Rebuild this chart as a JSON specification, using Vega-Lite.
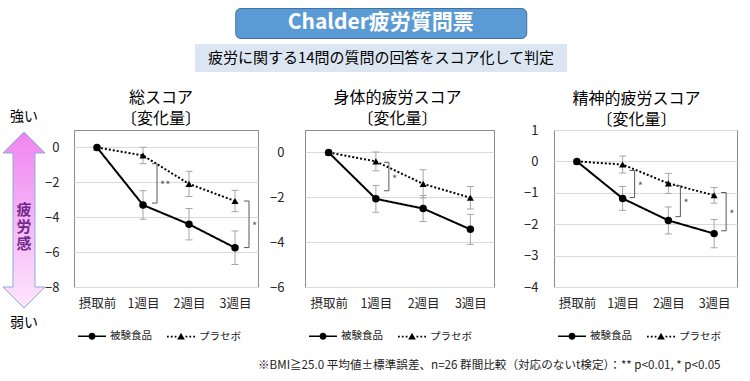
{
  "$schema": "https://vega.github.io/schema/vega-lite/v6.json",
  "padding": {"left": 0, "top": 7, "right": 0, "bottom": 0},
  "config": {
    "font": "Noto Sans CJK JP",
    "view": {"stroke": "#8c8c8c", "strokeWidth": 1},
    "axis": {"domain": false, "ticks": false, "labelColor": "#262626", "gridColor": "#d9d9d9", "labelOverlap": false},
    "axisY": {"labelOverlap": false, "labelFontSize": 13}
  },
  "datasets": {
    "scores": [
      {"panel": "総", "時点": "摂取前", "群": "被験食品", "mean": 0, "se": 0},
      {"panel": "総", "時点": "1週目", "群": "被験食品", "mean": -3.3, "se": 0.82},
      {"panel": "総", "時点": "2週目", "群": "被験食品", "mean": -4.4, "se": 0.9},
      {"panel": "総", "時点": "3週目", "群": "被験食品", "mean": -5.75, "se": 0.96},
      {"panel": "総", "時点": "摂取前", "群": "プラセボ", "mean": 0, "se": 0},
      {"panel": "総", "時点": "1週目", "群": "プラセボ", "mean": -0.46, "se": 0.47},
      {"panel": "総", "時点": "2週目", "群": "プラセボ", "mean": -2.09, "se": 0.72},
      {"panel": "総", "時点": "3週目", "群": "プラセボ", "mean": -3.07, "se": 0.61},
      {"panel": "身体", "時点": "摂取前", "群": "被験食品", "mean": 0, "se": 0},
      {"panel": "身体", "時点": "1週目", "群": "被験食品", "mean": -2.07, "se": 0.6},
      {"panel": "身体", "時点": "2週目", "群": "被験食品", "mean": -2.5, "se": 0.58},
      {"panel": "身体", "時点": "3週目", "群": "被験食品", "mean": -3.43, "se": 0.67},
      {"panel": "身体", "時点": "摂取前", "群": "プラセボ", "mean": 0, "se": 0},
      {"panel": "身体", "時点": "1週目", "群": "プラセボ", "mean": -0.4, "se": 0.42},
      {"panel": "身体", "時点": "2週目", "群": "プラセボ", "mean": -1.4, "se": 0.63},
      {"panel": "身体", "時点": "3週目", "群": "プラセボ", "mean": -2.02, "se": 0.5},
      {"panel": "精神", "時点": "摂取前", "群": "被験食品", "mean": 0, "se": 0},
      {"panel": "精神", "時点": "1週目", "群": "被験食品", "mean": -1.18, "se": 0.38},
      {"panel": "精神", "時点": "2週目", "群": "被験食品", "mean": -1.88, "se": 0.43},
      {"panel": "精神", "時点": "3週目", "群": "被験食品", "mean": -2.3, "se": 0.45},
      {"panel": "精神", "時点": "摂取前", "群": "プラセボ", "mean": 0, "se": 0},
      {"panel": "精神", "時点": "1週目", "群": "プラセボ", "mean": -0.1, "se": 0.27},
      {"panel": "精神", "時点": "2週目", "群": "プラセボ", "mean": -0.7, "se": 0.32},
      {"panel": "精神", "時点": "3週目", "群": "プラセボ", "mean": -1.08, "se": 0.25}
    ],
    "sig": [
      {"panel": "総", "時点": "1週目", "上": -0.93, "下": -3.19, "記号": "**"},
      {"panel": "総", "時点": "3週目", "上": -3.07, "下": -5.74, "記号": "*"},
      {"panel": "身体", "時点": "1週目", "上": -0.44, "下": -1.71, "記号": "*"},
      {"panel": "精神", "時点": "1週目", "上": -0.29, "下": -1.15, "記号": "*"},
      {"panel": "精神", "時点": "2週目", "上": -0.77, "下": -1.76, "記号": "*"},
      {"panel": "精神", "時点": "3週目", "上": -0.99, "下": -2.21, "記号": "*"}
    ]
  },
  "title": {"text": "※BMI≧25.0 平均値±標準誤差、n=26 群間比較（対応のないt検定）：** p<0.01, * p<0.05", "orient": "bottom", "anchor": "end", "fontSize": 11.6, "fontWeight": "normal", "color": "#222", "dx": -17, "offset": 16},
  "spacing": 17,
  "resolve": {"scale": {"shape": "independent"}, "legend": {"shape": "independent"}},
  "vconcat": [
    {
      "spacing": 0,
      "hconcat": [
        {"width": 195, "height": 10, "view": {"stroke": null}, "data": {"values": [{"t": ""}]}, "mark": "text", "encoding": {"text": {"field": "t"}}},
        {
          "spacing": 5,
          "center": true,
          "vconcat": [
            {"width": 291, "height": 30, "view": {"fill": "#5b9bd5", "stroke": "#41719c", "strokeWidth": 1, "cornerRadius": 5}, "data": {"values": [{"t": "Chalder疲労質問票"}]}, "mark": {"type": "text", "fontSize": 21, "fontWeight": "bold", "color": "white"}, "encoding": {"text": {"field": "t"}}},
            {"width": 372, "height": 28, "view": {"fill": "#dce6f2", "stroke": null}, "data": {"values": [{"t": "疲労に関する14問の質問の回答をスコア化して判定"}]}, "mark": {"type": "text", "fontSize": 15, "color": "black"}, "encoding": {"text": {"field": "t"}}}
          ]
        }
      ]
    },
    {
      "spacing": -4,
      "resolve": {"scale": {"shape": "independent"}, "legend": {"shape": "independent"}},
      "hconcat": [
        {
          "width": 48, "height": 200, "view": {"stroke": null},
          "data": {"values": [{"label": "強い", "level": 1}, {"label": "疲\n労\n感", "level": 0}, {"label": "弱い", "level": -1}]},
          "encoding": {"y": {"field": "level", "type": "quantitative", "scale": {"domain": [-1.073, 0.878], "nice": false, "zero": false}, "axis": null}},
          "layer": [
            {"transform": [{"filter": "datum.level === 0"}], "mark": {"type": "point", "shape": "M0,-4.19L1,-3.19L0.524,-3.19L0.524,3.19L1,3.19L0,4.19L-1,3.19L-0.524,3.19L-0.524,-3.19L-1,-3.19Z", "size": 1764, "filled": true, "opacity": 1, "fill": {"gradient": "linear", "x1": 0, "y1": 0, "x2": 0, "y2": 1, "stops": [{"offset": 0, "color": "#f084f0"}, {"offset": 1, "color": "#fde6fd"}]}, "stroke": "#8eaadb", "strokeWidth": 1}},
            {"transform": [{"filter": "datum.level !== 0"}], "mark": {"type": "text", "fontSize": 14, "color": "black"}, "encoding": {"text": {"field": "label"}}},
            {"transform": [{"filter": "datum.level === 0"}], "mark": {"type": "text", "fontSize": 15, "fontWeight": "bold", "color": "#702a8c", "lineBreak": "\n", "lineHeight": 17, "dy": -10}, "encoding": {"text": {"field": "label"}}}
          ]
        },
        {
          "spacing": 10,
          "resolve": {"scale": {"shape": "independent"}, "legend": {"shape": "independent"}},
          "hconcat": [
            {
              "width": 184, "height": 157,
              "title": {"text": ["総スコア", "〔変化量〕"], "fontSize": 16, "fontWeight": "normal", "lineHeight": 21, "offset": 3, "frame": "group", "dx": -5, "color": "black"},
              "encoding": {
                "x": {"field": "時点", "type": "ordinal", "title": null, "scale": {"type": "point", "padding": 0.5, "domain": ["摂取前", "1週目", "2週目", "3週目"]}, "axis": {"labelAngle": 0, "labelPadding": 10, "labelFontSize": 12.5, "grid": false}},
                "y": {"field": "mean", "type": "quantitative", "title": null, "scale": {"domain": [-8, 1], "nice": false, "zero": false}, "axis": {"values": [0, -2, -4, -6, -8], "labelPadding": 15, "labelFontSize": 13, "labelOverlap": false, "grid": true}}
              },
              "layer": [
                {"data": {"name": "scores"}, "transform": [{"filter": "datum.panel === '総' && datum.se > 0"}], "mark": {"type": "errorbar", "color": "#a6a6a6", "thickness": 1, "ticks": {"size": 7, "opacity": 1}}, "encoding": {"yError": {"field": "se"}}},
                {"data": {"name": "scores"}, "transform": [{"filter": "datum.panel === '総'"}], "mark": {"type": "line", "color": "black", "strokeWidth": 2}, "encoding": {"detail": {"field": "群", "type": "nominal"}, "strokeDash": {"condition": {"test": "datum['群'] === 'プラセボ'", "value": [2, 2]}, "value": [1, 0]}}},
                {"data": {"name": "scores"}, "transform": [{"filter": "datum.panel === '総'"}], "mark": {"type": "point", "filled": true, "opacity": 1, "color": "black"}, "encoding": {"shape": {"condition": {"test": "datum['群'] === 'プラセボ'", "value": "triangle-up"}, "value": "circle"}, "size": {"condition": {"test": "datum['群'] === 'プラセボ'", "value": 50}, "value": 56}}},
                {"data": {"name": "scores"}, "transform": [{"filter": "datum.panel === '総' && datum['時点'] === '摂取前'"}], "mark": {"type": "point", "filled": true, "opacity": 0, "color": "black"}, "encoding": {"shape": {"field": "群", "type": "nominal", "scale": {"domain": ["被験食品", "プラセボ"], "range": ["M-0.57,-0.12H3.43V0.12H-0.57ZM1.93,0A0.5,0.5,0,1,1,0.93,0A0.5,0.5,0,1,1,1.93,0Z", "M-0.57,-0.12H-0.32V0.12H-0.57ZM-0.02,-0.12H0.23V0.12H-0.02ZM0.53,-0.12H0.78V0.12H0.53ZM2.08,-0.12H2.33V0.12H2.08ZM2.63,-0.12H2.88V0.12H2.63ZM3.18,-0.12H3.43V0.12H3.18ZM1.43,-0.55L1.98,0.4L0.88,0.4Z"]}, "legend": {"title": null, "orient": "bottom", "direction": "horizontal", "symbolSize": 196, "symbolFillColor": "black", "symbolOpacity": 1, "labelFontSize": 10.5, "labelColor": "#222", "labelOffset": 20, "columnPadding": 11, "offset": 18, "padding": 0}}}},
                {"data": {"name": "sig"}, "transform": [{"filter": "datum.panel === '総'"}], "mark": {"type": "rule", "color": "#595959", "strokeWidth": 1, "xOffset": 14}, "encoding": {"y": {"field": "上", "type": "quantitative", "title": null}, "y2": {"field": "下"}}},
                {"data": {"name": "sig"}, "transform": [{"filter": "datum.panel === '総'"}], "mark": {"type": "tick", "orient": "horizontal", "size": 5, "thickness": 1, "color": "#595959", "opacity": 1, "xOffset": 11.5}, "encoding": {"y": {"field": "上", "type": "quantitative", "title": null}}},
                {"data": {"name": "sig"}, "transform": [{"filter": "datum.panel === '総'"}], "mark": {"type": "tick", "orient": "horizontal", "size": 5, "thickness": 1, "color": "#595959", "opacity": 1, "xOffset": 11.5}, "encoding": {"y": {"field": "下", "type": "quantitative", "title": null}}},
                {"data": {"name": "sig"}, "transform": [{"filter": "datum.panel === '総'"}, {"fold": ["上", "下"], "as": ["端", "値"]}], "mark": {"type": "text", "align": "left", "xOffset": 17, "dy": 3, "fontSize": 11, "color": "#595959"}, "encoding": {"y": {"aggregate": "mean", "field": "値", "type": "quantitative", "title": null}, "text": {"field": "記号"}}}
              ]
            },
            {
              "spacing": 28,
              "resolve": {"scale": {"shape": "independent"}, "legend": {"shape": "independent"}},
              "hconcat": [
                {
                  "width": 189, "height": 157,
                  "title": {"text": ["身体的疲労スコア", "〔変化量〕"], "fontSize": 16, "fontWeight": "normal", "lineHeight": 21, "offset": 3, "frame": "group", "dx": -2, "color": "black"},
                  "encoding": {
                    "x": {"field": "時点", "type": "ordinal", "title": null, "scale": {"type": "point", "padding": 0.5, "domain": ["摂取前", "1週目", "2週目", "3週目"]}, "axis": {"labelAngle": 0, "labelPadding": 10, "labelFontSize": 12.5, "grid": false}},
                    "y": {"field": "mean", "type": "quantitative", "title": null, "scale": {"domain": [-6, 1], "nice": false, "zero": false}, "axis": {"values": [0, -2, -4, -6], "labelPadding": 21, "labelFontSize": 13, "labelOverlap": false, "grid": true}}
                  },
                  "layer": [
                    {"data": {"name": "scores"}, "transform": [{"filter": "datum.panel === '身体' && datum.se > 0"}], "mark": {"type": "errorbar", "color": "#a6a6a6", "thickness": 1, "ticks": {"size": 7, "opacity": 1}}, "encoding": {"yError": {"field": "se"}}},
                    {"data": {"name": "scores"}, "transform": [{"filter": "datum.panel === '身体'"}], "mark": {"type": "line", "color": "black", "strokeWidth": 2}, "encoding": {"detail": {"field": "群", "type": "nominal"}, "strokeDash": {"condition": {"test": "datum['群'] === 'プラセボ'", "value": [2, 2]}, "value": [1, 0]}}},
                    {"data": {"name": "scores"}, "transform": [{"filter": "datum.panel === '身体'"}], "mark": {"type": "point", "filled": true, "opacity": 1, "color": "black"}, "encoding": {"shape": {"condition": {"test": "datum['群'] === 'プラセボ'", "value": "triangle-up"}, "value": "circle"}, "size": {"condition": {"test": "datum['群'] === 'プラセボ'", "value": 50}, "value": 56}}},
                    {"data": {"name": "scores"}, "transform": [{"filter": "datum.panel === '身体' && datum['時点'] === '摂取前'"}], "mark": {"type": "point", "filled": true, "opacity": 0, "color": "black"}, "encoding": {"shape": {"field": "群", "type": "nominal", "scale": {"domain": ["被験食品", "プラセボ"], "range": ["M-0.57,-0.12H3.43V0.12H-0.57ZM1.93,0A0.5,0.5,0,1,1,0.93,0A0.5,0.5,0,1,1,1.93,0Z", "M-0.57,-0.12H-0.32V0.12H-0.57ZM-0.02,-0.12H0.23V0.12H-0.02ZM0.53,-0.12H0.78V0.12H0.53ZM2.08,-0.12H2.33V0.12H2.08ZM2.63,-0.12H2.88V0.12H2.63ZM3.18,-0.12H3.43V0.12H3.18ZM1.43,-0.55L1.98,0.4L0.88,0.4Z"]}, "legend": {"title": null, "orient": "bottom", "direction": "horizontal", "symbolSize": 196, "symbolFillColor": "black", "symbolOpacity": 1, "labelFontSize": 10.5, "labelColor": "#222", "labelOffset": 20, "columnPadding": 11, "offset": 18, "padding": 0}}}},
                    {"data": {"name": "sig"}, "transform": [{"filter": "datum.panel === '身体'"}], "mark": {"type": "rule", "color": "#595959", "strokeWidth": 1, "xOffset": 13}, "encoding": {"y": {"field": "上", "type": "quantitative", "title": null}, "y2": {"field": "下"}}},
                    {"data": {"name": "sig"}, "transform": [{"filter": "datum.panel === '身体'"}], "mark": {"type": "tick", "orient": "horizontal", "size": 5, "thickness": 1, "color": "#595959", "opacity": 1, "xOffset": 10.5}, "encoding": {"y": {"field": "上", "type": "quantitative", "title": null}}},
                    {"data": {"name": "sig"}, "transform": [{"filter": "datum.panel === '身体'"}], "mark": {"type": "tick", "orient": "horizontal", "size": 5, "thickness": 1, "color": "#595959", "opacity": 1, "xOffset": 10.5}, "encoding": {"y": {"field": "下", "type": "quantitative", "title": null}}},
                    {"data": {"name": "sig"}, "transform": [{"filter": "datum.panel === '身体'"}, {"fold": ["上", "下"], "as": ["端", "値"]}], "mark": {"type": "text", "align": "left", "xOffset": 16, "dy": 3, "fontSize": 11, "color": "#595959"}, "encoding": {"y": {"aggregate": "mean", "field": "値", "type": "quantitative", "title": null}, "text": {"field": "記号"}}}
                  ]
                },
                {
                  "width": 183, "height": 157,
                  "title": {"text": ["精神的疲労スコア", "〔変化量〕"], "fontSize": 16, "fontWeight": "normal", "lineHeight": 21, "offset": -3.5, "frame": "group", "dx": -9, "color": "black"},
                  "encoding": {
                    "x": {"field": "時点", "type": "ordinal", "title": null, "scale": {"type": "point", "padding": 0.5, "domain": ["摂取前", "1週目", "2週目", "3週目"]}, "axis": {"labelAngle": 0, "labelPadding": 10, "labelFontSize": 12.5, "grid": false}},
                    "y": {"field": "mean", "type": "quantitative", "title": null, "scale": {"domain": [-4, 1], "nice": false, "zero": false}, "axis": {"values": [1, 0, -1, -2, -3, -4], "labelPadding": 16, "labelFontSize": 13, "labelOverlap": false, "grid": true}}
                  },
                  "layer": [
                    {"data": {"name": "scores"}, "transform": [{"filter": "datum.panel === '精神' && datum.se > 0"}], "mark": {"type": "errorbar", "color": "#a6a6a6", "thickness": 1, "ticks": {"size": 7, "opacity": 1}}, "encoding": {"yError": {"field": "se"}}},
                    {"data": {"name": "scores"}, "transform": [{"filter": "datum.panel === '精神'"}], "mark": {"type": "line", "color": "black", "strokeWidth": 2}, "encoding": {"detail": {"field": "群", "type": "nominal"}, "strokeDash": {"condition": {"test": "datum['群'] === 'プラセボ'", "value": [2, 2]}, "value": [1, 0]}}},
                    {"data": {"name": "scores"}, "transform": [{"filter": "datum.panel === '精神'"}], "mark": {"type": "point", "filled": true, "opacity": 1, "color": "black"}, "encoding": {"shape": {"condition": {"test": "datum['群'] === 'プラセボ'", "value": "triangle-up"}, "value": "circle"}, "size": {"condition": {"test": "datum['群'] === 'プラセボ'", "value": 50}, "value": 56}}},
                    {"data": {"name": "scores"}, "transform": [{"filter": "datum.panel === '精神' && datum['時点'] === '摂取前'"}], "mark": {"type": "point", "filled": true, "opacity": 0, "color": "black"}, "encoding": {"shape": {"field": "群", "type": "nominal", "scale": {"domain": ["被験食品", "プラセボ"], "range": ["M-0.57,-0.12H3.43V0.12H-0.57ZM1.93,0A0.5,0.5,0,1,1,0.93,0A0.5,0.5,0,1,1,1.93,0Z", "M-0.57,-0.12H-0.32V0.12H-0.57ZM-0.02,-0.12H0.23V0.12H-0.02ZM0.53,-0.12H0.78V0.12H0.53ZM2.08,-0.12H2.33V0.12H2.08ZM2.63,-0.12H2.88V0.12H2.63ZM3.18,-0.12H3.43V0.12H3.18ZM1.43,-0.55L1.98,0.4L0.88,0.4Z"]}, "legend": {"title": null, "orient": "bottom", "direction": "horizontal", "symbolSize": 196, "symbolFillColor": "black", "symbolOpacity": 1, "labelFontSize": 10.5, "labelColor": "#222", "labelOffset": 20, "columnPadding": 11, "offset": 18, "padding": 0}}}},
                    {"data": {"name": "sig"}, "transform": [{"filter": "datum.panel === '精神'"}], "mark": {"type": "rule", "color": "#595959", "strokeWidth": 1, "xOffset": 12}, "encoding": {"y": {"field": "上", "type": "quantitative", "title": null}, "y2": {"field": "下"}}},
                    {"data": {"name": "sig"}, "transform": [{"filter": "datum.panel === '精神'"}], "mark": {"type": "tick", "orient": "horizontal", "size": 5, "thickness": 1, "color": "#595959", "opacity": 1, "xOffset": 9.5}, "encoding": {"y": {"field": "上", "type": "quantitative", "title": null}}},
                    {"data": {"name": "sig"}, "transform": [{"filter": "datum.panel === '精神'"}], "mark": {"type": "tick", "orient": "horizontal", "size": 5, "thickness": 1, "color": "#595959", "opacity": 1, "xOffset": 9.5}, "encoding": {"y": {"field": "下", "type": "quantitative", "title": null}}},
                    {"data": {"name": "sig"}, "transform": [{"filter": "datum.panel === '精神'"}, {"fold": ["上", "下"], "as": ["端", "値"]}], "mark": {"type": "text", "align": "left", "xOffset": 15, "dy": 3, "fontSize": 11, "color": "#595959"}, "encoding": {"y": {"aggregate": "mean", "field": "値", "type": "quantitative", "title": null}, "text": {"field": "記号"}}}
                  ]
                }
              ]
            }
          ]
        }
      ]
    }
  ]
}
